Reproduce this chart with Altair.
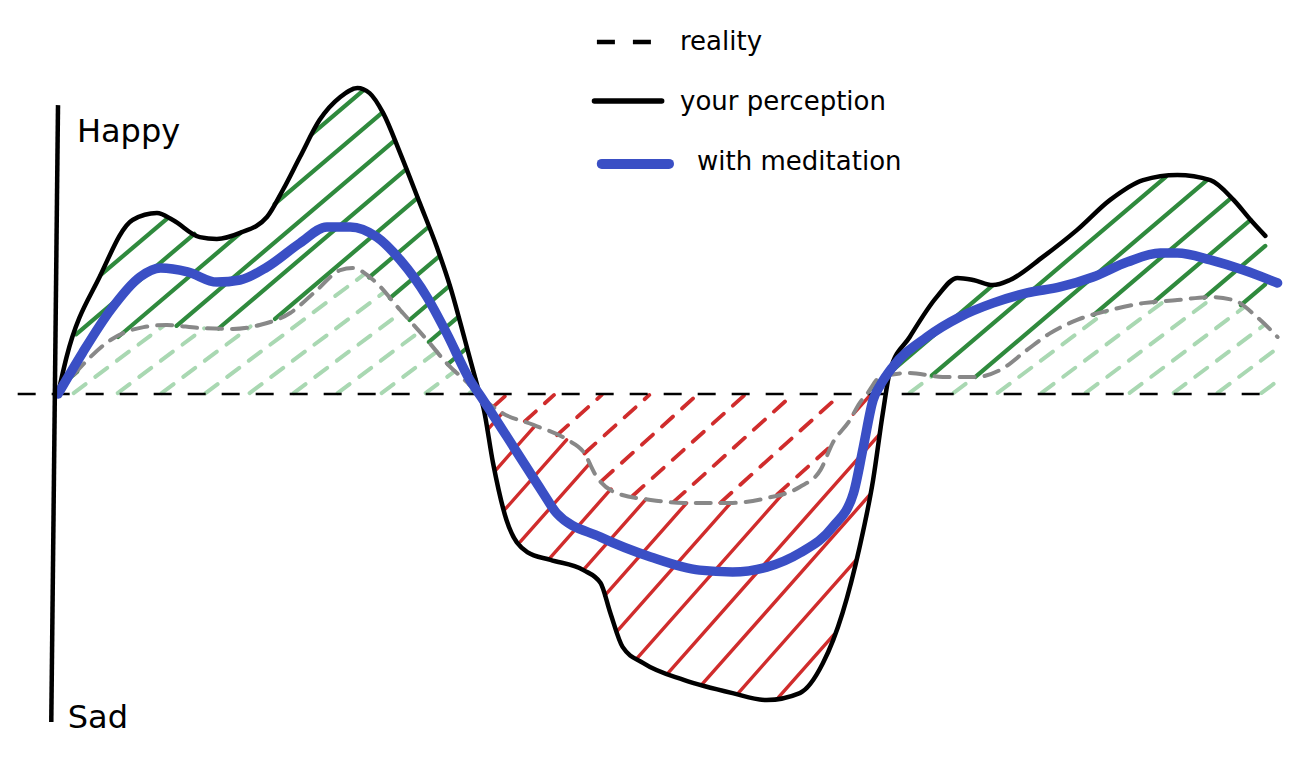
import altair as alt
import numpy as np
import pandas as pd

# ---- data (time units 0..100, mood units: 0 = neutral, + happy, - sad) ----
reality_t = [0, 2.4, 4.3, 7.0, 8.9, 11.6, 14.3, 16.5, 19.0, 21.2, 23.1, 24.1, 25.8, 28.0, 30.2,
             31.8, 33.7, 34.4, 36.2, 38.9, 41.7, 43.0, 44.1, 45.7, 48.5, 51.2, 55.2, 58.0, 60.7,
             62.4, 63.4, 64.8, 65.6, 66.2, 67.3, 69.7, 72.4, 75.2, 77.1, 79.3, 81.2, 83.4, 86.1,
             88.8, 91.6, 94.3, 96.2, 98.1, 99.8]
reality_m = [0, 11.3, 18.0, 22.3, 23.0, 22.0, 21.7, 23.0, 27.0, 34.7, 41.3, 42.0, 38.0, 28.0, 18.0,
             10.3, 3.0, 0, -6.0, -10.3, -15.3, -19.3, -27.7, -33.0, -35.3, -36.3, -36.3, -34.7, -31.0,
             -25.3, -16.3, -8.7, -3.0, 0, 5.7, 7.0, 5.7, 5.7, 8.0, 14.7, 20.3, 24.7, 28.0,
             30.3, 31.3, 32.3, 31.3, 25.7, 19.0]

perception_t = [0, 0.7, 3.4, 6.1, 8.1, 9.4, 11.6, 13.0, 14.9, 17.1, 18.4, 19.8, 21.4, 23.1, 24.5,
                25.5, 26.6, 28.0, 29.6, 31.0, 32.1, 33.3, 34.5, 34.8, 35.6, 36.7, 38.4, 40.3, 43.0,
                44.4, 45.2, 46.2, 47.9, 51.2, 55.2, 58.0, 60.7, 62.6, 64.2, 65.6, 66.7, 67.5, 68.1,
                69.7, 71.9, 73.6, 74.9, 76.5, 77.9, 80.6, 83.4, 86.1, 88.8, 91.6, 94.3, 96.2, 97.6, 98.8]
perception_m = [0, 12.3, 39.0, 58.0, 60.3, 58.0, 52.3, 51.7, 53.7, 59.0, 68.0, 79.0, 91.3, 99.0, 102.0,
                100.3, 93.7, 80.3, 63.7, 49.0, 35.7, 18.0, 0, -4.3, -23.0, -42.0, -52.7, -55.3, -58.7,
                -63.0, -73.0, -84.3, -89.7, -95.3, -99.7, -102.0, -99.7, -89.7, -73.0, -51.0, -28.7, -6.3, 8.0,
                19.0, 32.3, 38.7, 38.0, 36.3, 38.0, 45.7, 54.7, 64.7, 71.3, 73.0, 71.3, 64.7, 58.0, 52.7]

meditation_t = [0, 2.0, 4.3, 6.7, 8.4, 10.6, 13.0, 14.9, 17.1, 19.8, 22.0, 23.9, 26.1, 28.0, 30.2,
                31.8, 33.7, 34.8, 37.6, 39.7, 40.8, 44.4, 48.5, 52.5, 55.2, 58.0, 60.7, 63.4, 65.1,
                65.9, 66.7, 67.3, 68.3, 71.1, 73.8, 76.5, 79.3, 82.0, 84.7, 87.5, 90.2, 91.6, 94.3,
                97.0, 99.8]
meditation_m = [0, 13.7, 28.0, 39.0, 42.0, 40.7, 37.3, 38.0, 42.3, 50.3, 55.7, 55.7, 52.3, 44.7, 32.3,
                20.3, 4.7, -2.0, -19.7, -33.0, -39.7, -47.7, -54.3, -58.7, -59.3, -57.7, -53.0, -44.3, -33.0,
                -17.7, -2.0, 3.0, 9.0, 19.0, 25.7, 30.3, 33.7, 35.7, 39.0, 44.0, 47.0, 47.0, 44.7,
                41.3, 37.0]

axis_labels = ["Happy", "Sad"]
axis_label_t = [1.55, 0.8]
axis_label_m = [84.0, -111.3]

legend_labels = ["reality", "your perception", "with meditation"]
legend_text_t = [50.9, 50.9, 52.3]
legend_text_m = [114.7, 94.7, 74.7]
legend_line_t = [44.1, 43.9, 44.5]
legend_line_t2 = [48.6, 49.4, 50.0]
legend_line_m = [117.3, 97.7, 76.7]

baseline_t = [-3.3, 98.5]
vaxis_t = [0.0, -0.55]
vaxis_m = [96.3, -109.3]

GREEN = "#2f8a3d"
LIGHT_GREEN = "#a9d8b2"
RED = "#d02c2c"
BLUE = "#3a4fc5"
GRAY = "#888888"

T_DOMAIN = [-4.092, 100.982]
M_DOMAIN = [-120.33, 128.67]

rt, rm = np.array(reality_t), np.array(reality_m)
pt, pm = np.array(perception_t), np.array(perception_m)


def hatch(f1, f2, t_lo, t_hi, slope, spacing, offset, want_positive):
    """Segments of a family of parallel lines lying between curves f1 and f2."""
    segs = []
    span = 130.0 / slope
    for c in np.arange(t_lo - span + offset, t_hi + span, spacing):
        ts = np.arange(max(t_lo, c - span), min(t_hi, c + span), 0.02)
        if len(ts) < 2:
            continue
        h = slope * (ts - c)
        a, b = f1(ts), f2(ts)
        inside = (h >= np.minimum(a, b)) & (h <= np.maximum(a, b))
        inside &= (h > 0.3) if want_positive else (h < -0.3)
        idx = np.flatnonzero(inside)
        if len(idx) == 0:
            continue
        runs = np.split(idx, np.flatnonzero(np.diff(idx) > 1) + 1)
        for r in runs:
            if len(r) < 8:
                continue
            segs.append((ts[r[0]], h[r[0]], ts[r[-1]], h[r[-1]]))
    return segs


def real(x):
    return np.interp(x, rt, rm)


def perc(x):
    return np.interp(x, pt, pm)


def zero(x):
    return np.zeros_like(x)


def seg_df(segs, color, width):
    return pd.DataFrame(segs, columns=["t", "m", "t2", "m2"]).assign(color=color, w=width)


solid = pd.concat([
    seg_df(hatch(real, perc, 0, pt[-1], 3.46, 3.7, 0.0, True), GREEN, 4.2),
    seg_df(hatch(real, perc, 0, pt[-1], 4.6, 3.6, 1.2, False), RED, 3.4),
])
dashed = pd.concat([
    seg_df(hatch(zero, real, 0, rt[-1], 3.05, 3.6, 0.6, True), LIGHT_GREEN, 4.0),
    seg_df(hatch(zero, real, 0, rt[-1], 3.67, 3.9, 2.0, False), RED, 3.8),
])

xs = alt.Scale(domain=T_DOMAIN, nice=False, zero=False)
ys = alt.Scale(domain=M_DOMAIN, nice=False, zero=False)
X = lambda f: alt.X(f, type="quantitative", scale=xs, axis=None)
Y = lambda f: alt.Y(f, type="quantitative", scale=ys, axis=None)

dashed_layer = alt.Chart(dashed).mark_rule(strokeDash=[15, 12], strokeCap="round").encode(
    x=X("t"), y=Y("m"), x2="t2", y2="m2", color=alt.Color("color:N", scale=None),
    strokeWidth=alt.StrokeWidth("w:Q", scale=None))
solid_layer = alt.Chart(solid).mark_rule(strokeCap="round").encode(
    x=X("t"), y=Y("m"), x2="t2", y2="m2", color=alt.Color("color:N", scale=None),
    strokeWidth=alt.StrokeWidth("w:Q", scale=None))

baseline = alt.Chart(pd.DataFrame({"t": [baseline_t[0]], "t2": [baseline_t[1]], "m": [0]})).mark_rule(
    color="black", strokeWidth=2.6, strokeDash=[18, 16]).encode(x=X("t"), x2="t2", y=Y("m"))

reality = alt.Chart(pd.DataFrame({"t": reality_t, "m": reality_m})).mark_line(
    color=GRAY, strokeWidth=4, strokeDash=[15, 10], interpolate="monotone", strokeCap="round").encode(
    x=X("t"), y=Y("m"))
perception = alt.Chart(pd.DataFrame({"t": perception_t, "m": perception_m})).mark_line(
    color="black", strokeWidth=4.5, interpolate="monotone", strokeCap="round", strokeJoin="round").encode(
    x=X("t"), y=Y("m"))
meditation = alt.Chart(pd.DataFrame({"t": meditation_t, "m": meditation_m})).mark_line(
    color=BLUE, strokeWidth=9.5, interpolate="monotone", strokeCap="round", strokeJoin="round").encode(
    x=X("t"), y=Y("m"))

vaxis = alt.Chart(pd.DataFrame({"t": [vaxis_t[0]], "t2": [vaxis_t[1]], "m": [vaxis_m[0]], "m2": [vaxis_m[1]]})).mark_rule(
    color="black", strokeWidth=4.5).encode(x=X("t"), x2="t2", y=Y("m"), y2="m2")

labels = alt.Chart(pd.DataFrame({"t": axis_label_t, "m": axis_label_m, "label": axis_labels})).mark_text(
    align="left", baseline="alphabetic", fontSize=32, font="DejaVu Sans", color="black").encode(
    x=X("t"), y=Y("m"), text="label:N")

leg_df = pd.DataFrame({"t": legend_line_t, "t2": legend_line_t2, "m": legend_line_m,
                       "tt": legend_text_t, "tm": legend_text_m, "label": legend_labels})
leg_dash = alt.Chart(leg_df.iloc[[0]]).mark_rule(color="black", strokeWidth=4.5, strokeDash=[18, 18]).encode(
    x=X("t"), x2="t2", y=Y("m"))
leg_black = alt.Chart(leg_df.iloc[[1]]).mark_rule(color="black", strokeWidth=5.5, strokeCap="round").encode(
    x=X("t"), x2="t2", y=Y("m"))
leg_blue = alt.Chart(leg_df.iloc[[2]]).mark_rule(color=BLUE, strokeWidth=10, strokeCap="round").encode(
    x=X("t"), x2="t2", y=Y("m"))
leg_text = alt.Chart(leg_df).mark_text(
    align="left", baseline="alphabetic", fontSize=26, font="DejaVu Sans", color="black").encode(
    x=X("tt"), y=Y("tm"), text="label:N")

chart = alt.layer(
    dashed_layer, solid_layer, baseline, reality, perception, meditation, vaxis, labels,
    leg_dash, leg_black, leg_blue, leg_text
).properties(width=1284, height=747, padding=0, autosize="none", background="white"
).configure_view(strokeWidth=0)

chart.save("out.html", embed_options={"renderer": "svg", "actions": False})
